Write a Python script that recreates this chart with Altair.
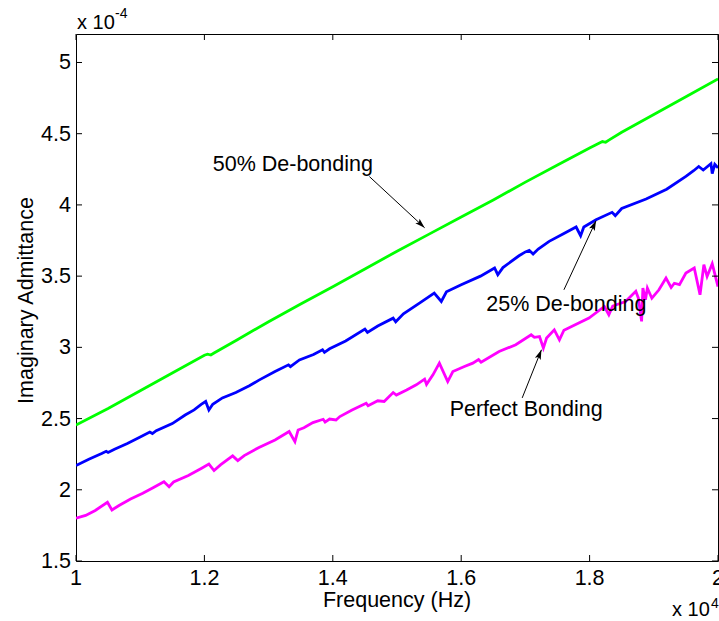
import altair as alt
import pandas as pd

# ---- data (frequency in x10^4 Hz, admittance in x10^-4) ----
green_f = [1.000, 1.050, 1.100, 1.150, 1.200, 1.205, 1.210, 1.215, 1.250, 1.300, 1.350,
           1.400, 1.450, 1.500, 1.550, 1.600, 1.650, 1.700, 1.750, 1.800, 1.820, 1.825,
           1.830, 1.850, 1.900, 1.950, 2.000]
green_v = [2.455, 2.570, 2.695, 2.820, 2.945, 2.952, 2.946, 2.960, 3.050, 3.180, 3.305,
           3.425, 3.550, 3.675, 3.795, 3.915, 4.035, 4.160, 4.280, 4.400, 4.445, 4.440,
           4.455, 4.510, 4.635, 4.760, 4.885]

blue_f = [1.000, 1.020, 1.040, 1.047, 1.050, 1.060, 1.080, 1.100, 1.115, 1.119, 1.125,
          1.150, 1.170, 1.184, 1.195, 1.202, 1.207, 1.213, 1.228, 1.249, 1.270, 1.285,
          1.310, 1.331, 1.334, 1.348, 1.370, 1.384, 1.387, 1.395, 1.420, 1.450, 1.454,
          1.470, 1.494, 1.498, 1.510, 1.535, 1.558, 1.569, 1.577, 1.600, 1.630, 1.652,
          1.657, 1.665, 1.690, 1.700, 1.706, 1.712, 1.720, 1.737, 1.760, 1.779, 1.786,
          1.791, 1.810, 1.835, 1.840, 1.850, 1.888, 1.920, 1.950, 1.962, 1.970, 1.977,
          1.989, 1.991, 1.995, 2.000]
blue_v = [2.170, 2.215, 2.255, 2.270, 2.262, 2.285, 2.325, 2.370, 2.405, 2.395, 2.415,
          2.465, 2.525, 2.561, 2.600, 2.620, 2.560, 2.600, 2.645, 2.683, 2.730, 2.770,
          2.830, 2.877, 2.865, 2.912, 2.950, 2.983, 2.965, 2.990, 3.045, 3.128, 3.105,
          3.150, 3.205, 3.180, 3.235, 3.310, 3.381, 3.322, 3.390, 3.440, 3.500, 3.557,
          3.510, 3.560, 3.643, 3.670, 3.681, 3.655, 3.690, 3.744, 3.800, 3.845, 3.784,
          3.845, 3.896, 3.948, 3.925, 3.975, 4.042, 4.110, 4.200, 4.240, 4.270, 4.245,
          4.290, 4.220, 4.285, 4.260]

mag_f = [1.000, 1.015, 1.030, 1.049, 1.056, 1.067, 1.085, 1.104, 1.120, 1.137, 1.145,
         1.152, 1.175, 1.195, 1.207, 1.215, 1.225, 1.244, 1.252, 1.262, 1.285, 1.310,
         1.332, 1.341, 1.346, 1.355, 1.369, 1.385, 1.388, 1.395, 1.405, 1.411, 1.430,
         1.452, 1.455, 1.470, 1.480, 1.494, 1.499, 1.515, 1.530, 1.543, 1.546, 1.556,
         1.566, 1.579, 1.587, 1.605, 1.618, 1.627, 1.631, 1.659, 1.685, 1.709, 1.714,
         1.722, 1.728, 1.733, 1.745, 1.753, 1.760, 1.799, 1.823, 1.830, 1.836, 1.856,
         1.872, 1.876, 1.881, 1.883, 1.887, 1.890, 1.897, 1.908, 1.919, 1.927, 1.932,
         1.940, 1.950, 1.963, 1.972, 1.978, 1.983, 1.991, 2.000]
mag_v = [1.800, 1.820, 1.855, 1.912, 1.858, 1.890, 1.935, 1.976, 2.015, 2.057, 2.022,
         2.055, 2.100, 2.150, 2.180, 2.135, 2.175, 2.238, 2.205, 2.240, 2.297, 2.350,
         2.409, 2.338, 2.420, 2.435, 2.472, 2.495, 2.475, 2.497, 2.490, 2.514, 2.560,
         2.608, 2.590, 2.625, 2.620, 2.683, 2.665, 2.700, 2.737, 2.777, 2.740, 2.807,
         2.889, 2.760, 2.830, 2.865, 2.889, 2.915, 2.895, 2.971, 3.018, 3.088, 3.070,
         3.076, 2.995, 3.065, 3.123, 3.053, 3.120, 3.206, 3.287, 3.229, 3.290, 3.322,
         3.393, 3.345, 3.182, 3.416, 3.334, 3.416, 3.345, 3.404, 3.487, 3.420, 3.450,
         3.440, 3.522, 3.557, 3.369, 3.580, 3.498, 3.587, 3.427]

series_names = ["50% De-bonding", "25% De-bonding", "Perfect Bonding"]
series_colors = ["#00ff00", "#0000ff", "#ff00ff"]

x_ticks = [1.0, 1.2, 1.4, 1.6, 1.8, 2.0]
x_tick_labels = ["1", "1.2", "1.4", "1.6", "1.8", "2"]
y_ticks = [1.5, 2.0, 2.5, 3.0, 3.5, 4.0, 4.5, 5.0]
y_tick_labels = ["1.5", "2", "2.5", "3", "3.5", "4", "4.5", "5"]
x_title = "Frequency (Hz)"
y_title = "Imaginary Admittance"

# annotations: label position, arrow start, arrow tip, arrowhead angle
ann_text = ["50% De-bonding", "25% De-bonding", "Perfect Bonding"]
ann_tf = [1.213, 1.639, 1.582]
ann_tv = [4.283, 3.299, 2.561]
arr_f1 = [1.457, 1.760, 1.695]
arr_v1 = [4.199, 3.404, 2.645]
arr_f2 = [1.543, 1.810, 1.725]
arr_v2 = [3.840, 3.889, 2.983]
arr_ang = [132.8, 24.9, 21.9]

# ---- tables ----
df = pd.concat([
    pd.DataFrame({"f": green_f, "v": green_v, "s": series_names[0]}),
    pd.DataFrame({"f": blue_f, "v": blue_v, "s": series_names[1]}),
    pd.DataFrame({"f": mag_f, "v": mag_v, "s": series_names[2]}),
], ignore_index=True)
ann = pd.DataFrame({"label": ann_text, "tf": ann_tf, "tv": ann_tv,
                    "f1": arr_f1, "v1": arr_v1, "f2": arr_f2, "v2": arr_v2, "ang": arr_ang})
xt = pd.DataFrame({"t": x_ticks, "lab": x_tick_labels})
yt = pd.DataFrame({"t": y_ticks, "lab": y_tick_labels})

W, H = 642, 527
FONT = "Liberation Sans"
FS = 21.5
xs = alt.Scale(domain=[1, 2], nice=False, zero=False)
ys = alt.Scale(domain=[1.5, 5.2], nice=False, zero=False)

lines = alt.Chart(df).mark_line(strokeWidth=2.8, clip=True).encode(
    x=alt.X("f:Q", scale=xs, axis=None),
    y=alt.Y("v:Q", scale=ys, axis=None),
    color=alt.Color("s:N", scale=alt.Scale(domain=series_names, range=series_colors), legend=None),
)

# inward ticks on all four sides (MATLAB box style)
TL = 6
xb = alt.Chart(xt).mark_rule(color="black", strokeWidth=1).encode(
    x=alt.X("t:Q", scale=xs, axis=None), y=alt.value(H), y2=alt.value(H - TL))
xtop = alt.Chart(xt).mark_rule(color="black", strokeWidth=1).encode(
    x=alt.X("t:Q", scale=xs, axis=None), y=alt.value(0), y2=alt.value(TL))
yl = alt.Chart(yt).mark_rule(color="black", strokeWidth=1).encode(
    y=alt.Y("t:Q", scale=ys, axis=None), x=alt.value(0), x2=alt.value(TL))
yr = alt.Chart(yt).mark_rule(color="black", strokeWidth=1).encode(
    y=alt.Y("t:Q", scale=ys, axis=None), x=alt.value(W), x2=alt.value(W - TL))

# tick labels positioned through the scales
xlab = alt.Chart(xt).mark_text(align="center", baseline="alphabetic", font=FONT,
                               fontSize=FS, color="black").encode(
    x=alt.X("t:Q", scale=xs, axis=None), y=alt.value(H + 24), text="lab:N")
ylab = alt.Chart(yt).mark_text(align="right", baseline="middle", font=FONT,
                               fontSize=FS, color="black", dy=1).encode(
    y=alt.Y("t:Q", scale=ys, axis=None), x=alt.value(-5), text="lab:N")

labels = alt.Chart(ann).mark_text(align="left", baseline="middle", font=FONT,
                                  fontSize=FS, color="black").encode(
    x=alt.X("tf:Q", scale=xs, axis=None), y=alt.Y("tv:Q", scale=ys, axis=None), text="label:N")
arrows = alt.Chart(ann).mark_rule(color="black", strokeWidth=1).encode(
    x=alt.X("f1:Q", scale=xs, axis=None), y=alt.Y("v1:Q", scale=ys, axis=None),
    x2="f2:Q", y2="v2:Q")
heads = alt.Chart(ann).mark_point(shape="M0,0 L-0.32,1 L0,0.8 L0.32,1 Z", filled=True,
                                  color="black", size=380, opacity=1, strokeWidth=0).encode(
    x=alt.X("f2:Q", scale=xs, axis=None), y=alt.Y("v2:Q", scale=ys, axis=None),
    angle=alt.Angle("ang:Q", scale=None))

def txt(s, x, y, size):
    return alt.Chart(pd.DataFrame({"t": [s]})).mark_text(
        align="left", baseline="alphabetic", font=FONT,
        fontSize=size, color="black").encode(
        x=alt.value(x), y=alt.value(y), text="t:N")

xtitle = alt.Chart(pd.DataFrame({"t": [x_title]})).mark_text(
    align="center", baseline="alphabetic", font=FONT, fontSize=FS, color="black").encode(
    x=alt.value(W / 2), y=alt.value(H + 46), text="t:N")
ytitle = alt.Chart(pd.DataFrame({"t": [y_title]})).mark_text(
    align="center", baseline="alphabetic", font=FONT, fontSize=FS, color="black",
    angle=270).encode(x=alt.value(-43), y=alt.value(H / 2 + 3), text="t:N")

exp_y1 = txt("x 10", 1, -5, 20)
exp_y2 = txt("-4", 39, -16, 14)
exp_x1 = txt("x 10", 596, 582, 20)
exp_x2 = txt("4", 635, 574, 14)

chart = alt.layer(lines, xb, xtop, yl, yr, xlab, ylab, xtitle, ytitle,
                  arrows, heads, labels,
                  exp_y1, exp_y2, exp_x1, exp_x2).properties(
    width=W, height=H, autosize="none",
    padding={"left": 76, "top": 34, "right": 1, "bottom": 60},
    background="white",
).configure_view(stroke="black", strokeWidth=1)

chart.save("out.html", embed_options={"renderer": "svg", "actions": False})
